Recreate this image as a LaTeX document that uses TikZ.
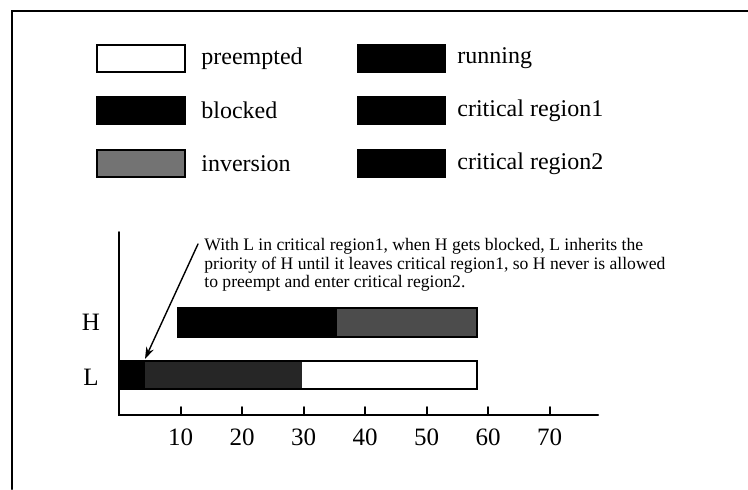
\documentclass[tikz,border=0pt]{standalone}
\usepackage{fontspec}
\setmainfont{Liberation Serif}
\usetikzlibrary{arrows.meta,patterns}

\begin{document}
\begin{tikzpicture}[x=0.5pt,y=-0.5pt,line cap=round,
		legtext/.style={anchor=west,inner sep=0pt,font=\fontsize{12}{14}\selectfont},
		legbox/.style={draw,line width=0.6pt},
		speckle/.style={pattern=crosshatch dots,pattern color=white},
		ticklabel/.style={inner sep=0pt,font=\fontsize{12.5}{14}\selectfont}]
	\useasboundingbox (0,0) rectangle (748,489);
	% outer frame (only top and left edge are visible)
	\draw[line width=1pt] (12,489) -- (12,11) -- (748,11);
	% legend
	\foreach \n/\y/\ltxt/\lcol/\rtxt in {1/45/preempted/white/running,
		2/97/blocked/black/critical region1,3/150/inversion/black!55/critical region2} {
		\filldraw[legbox,fill=\lcol] (97,\y) rectangle (185,\y+27);
		\node[legtext] (lt\n) at (201,\y+13.5) {\ltxt};
		\filldraw[legbox,fill=black] (358,\y) rectangle (445,\y+27);
		\node[legtext] (rt\n) at (457,\y+13.5) {\rtxt};
	}
	% bars
	\fill[black] (178,308) rectangle (477,337);
	\fill[black!70] (337,308) rectangle (477,337);
	\draw[line width=0.6pt] (178,308) rectangle (477,337);
	\fill[black] (119,361) rectangle (302,389);
	\fill[black!85] (145,361) rectangle (302,389);
	\draw[line width=0.6pt] (119,361) rectangle (477,389);
	% axes
	\draw[line width=1pt] (119,232) -- (119,415) -- (598,415);
	\foreach \t in {10,20,...,70} {
		\draw[line width=1pt] (119+6.15*\t,415) -- (119+6.15*\t,407);
		\node[ticklabel] (tl\t) at (119+6.15*\t,437) {\t};
	}
	\node[ticklabel] (hlab) at (91,322) {H};
	\node[ticklabel] (llab) at (91,377) {L};
	% note and arrow
	\node[anchor=north west,inner sep=0pt,align=left,
		font=\fontsize{8.8}{9.3}\selectfont] (note) at (204,238)
		{With L in critical region1, when H gets blocked, L inherits the\\
		priority of H until it leaves critical region1, so H never is allowed\\
		to preempt and enter critical region2.};
	\coordinate (tail) at (198,244);
	\coordinate (head) at (145,359);
	\draw[line width=0.7pt,-{Stealth[length=6pt,width=4pt]}] (tail) -- (head);
\end{tikzpicture}
\end{document}
